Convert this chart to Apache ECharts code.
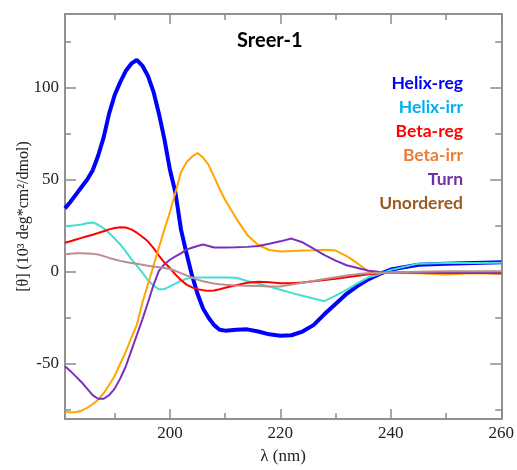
<!DOCTYPE html>
<html>
<head>
<meta charset="utf-8">
<script src="https://cdn.jsdelivr.net/npm/echarts@6/dist/echarts.min.js"></script>
<style>html,body{margin:0;padding:0;background:#fff}#chart{width:517px;height:470px}</style>
</head>
<body>
<div id="chart"></div>
<script>
const titleText = 'Sreer-1';
const xName = 'λ (nm)';
const yName = '[θ] (10³ deg*cm²/dmol)';
const wavelengths = [181,182,183,184,185,186,187,188,189,190,191,192,193,194,195,196,197,198,199,200,201,202,203,204,205,206,207,208,209,210,212,214,216,218,220,222,224,226,228,230,232,234,236,238,240,245,250,255,260];
const helixReg = [34.4,38,42,46,50,55,63,73,86,96,103,109,113,115,112,106.5,98,86,72,55.4,43,23,10,-2,-12,-20,-25,-29,-31.5,-32,-31.5,-31.3,-32.5,-34,-34.8,-34.5,-32.5,-29,-23,-17.5,-12,-7.7,-4,-1.2,1.2,3.8,4.4,4.8,5.1];
const helixIrr = [24.5,25,25.3,25.7,26.3,26.8,25.5,23.6,21,18,14.8,11,7,3.3,-0.5,-4.5,-7.5,-9.5,-9.5,-8,-6.5,-5,-3.8,-3.3,-3.2,-3.2,-3.2,-3.2,-3.2,-3.2,-3.3,-5,-6.5,-8,-9.8,-11.5,-13,-14.5,-16,-13,-9.8,-6.2,-3,-1.2,1,4.4,4.8,4.8,4.9];
const betaReg = [15.7,16.6,17.5,18.4,19.3,20.1,21,22,23,23.8,24.2,24,23,21.2,19,16.5,13,8.8,5,2,-1.5,-4.5,-7,-8.5,-9.5,-10,-10.4,-10.2,-9.5,-8.7,-7.3,-6,-5.5,-5.7,-6.2,-6.2,-5.8,-5.2,-4.5,-3.8,-3,-2.2,-1.4,-0.8,-0.5,-0.5,-0.8,-0.5,-0.7];
const betaIrr = [-76,-76.5,-76.2,-75.5,-74,-72,-69.5,-66,-61.5,-56.6,-50,-43.5,-36,-29,-17,-7,3,13,23,32.4,43,54,59.5,62.5,64.5,62,58,51.5,45,39,29,20,14.5,11.8,11,11.3,11.5,11.7,12,11.5,8.5,4.5,0,-0.5,-0.5,-0.8,-1.5,-0.8,-1.2];
const turn = [-51.3,-54,-57,-60,-63.5,-67,-69,-69,-67,-63.5,-58,-51.5,-43,-34.5,-26,-17,-7.5,0.5,4,6.5,8.3,10,12,13,14,14.8,14,13.2,13.2,13.2,13.3,13.5,14,15.2,16.5,18,16,12.5,9,6,3.5,2,0.5,-0.2,-0.3,-0.5,-0.7,-0.6,-0.8];
const unordered = [9.5,9.8,10,10,9.9,9.7,9.3,8.5,7.5,6.6,5.9,5.3,4.8,4.3,3.8,3.3,2.8,2.4,2,1.5,0.5,-0.8,-2,-3.2,-4.3,-5.2,-5.9,-6.4,-6.8,-7.1,-7.5,-7.6,-7.8,-8,-8,-7,-6,-5,-4,-3,-2,-1.3,-0.8,-0.5,-0.3,0,0.2,0.2,0.3];
const seriesNames = ['Helix-reg','Helix-irr','Beta-reg','Beta-irr','Turn','Unordered'];
const seriesValues = [helixReg, helixIrr, betaReg, betaIrr, turn, unordered];
const lineColors = ['#0000ff','#40e0d0','#ff0000','#ffa500','#7b2fc0','#bc8f8f'];
const legendColors = ['#0000ff','#00b0f0','#ff0000','#ed7d31','#7030a0','#9c5b1e'];
const lineWidths = [4,2,2,2,2,2];
const xMajor = [200,220,240,260];
const xMinor = [190,210,230,250];
const yMajor = [-50,0,50,100];
const yMinor = [-75,-25,25,75,125];

const axisColor = '#8a8a8a';
const serif = 'Liberation Serif';
function mkAxis(type, pos, ticks, len, labels, extra) {
  const range = type === 'x' ? {min:181,max:260} : {min:-80,max:140};
  return Object.assign({
    type:'value', position:pos, ...range,
    axisLine:{show:true,onZero:false,lineStyle:{color:axisColor,width:1.5}},
    axisTick:{show:true,inside:true,length:len,customValues:ticks,lineStyle:{color:axisColor,width:1.5}},
    axisLabel:labels ? {show:true,customValues:labels,fontFamily:serif,fontSize:17,color:'#222',margin:6} : {show:false},
    splitLine:{show:false}
  }, extra||{});
}
const chart = echarts.init(document.getElementById('chart'), null, {renderer:'canvas'});
chart.setOption({
  animation:false,
  backgroundColor:'#fff',
  title:{text:titleText,left:237,top:31,padding:0,textStyle:{fontFamily:'Lato',fontWeight:'bold',fontSize:20,color:'#000'}},
  legend:{
    orient:'vertical',right:49,top:71,padding:0,align:'right',icon:'none',itemWidth:1,itemHeight:24,itemGap:0,selectedMode:false,
    textStyle:{fontFamily:'Lato',fontWeight:'bold',fontSize:17.5,lineHeight:24},
    data:seriesNames.map((n,i)=>({name:n,textStyle:{color:legendColors[i]}}))
  },
  grid:{left:65,right:15,top:14,bottom:41,containLabel:false},
  xAxis:[
    mkAxis('x','bottom',xMajor,10,xMajor,{name:xName,nameLocation:'middle',nameGap:29,nameTextStyle:{fontFamily:serif,fontSize:17,color:'#222',verticalAlign:'top'}}),
    mkAxis('x','bottom',xMinor,6,null),
    mkAxis('x','top',xMajor,10,null),
    mkAxis('x','top',xMinor,6,null)
  ],
  yAxis:[
    mkAxis('y','left',yMajor,11,yMajor,{name:yName,nameLocation:'middle',nameGap:33,nameMoveOverlap:false,nameTextStyle:{fontFamily:serif,fontSize:16,color:'#222'}}),
    mkAxis('y','left',yMinor,6,null),
    mkAxis('y','right',yMajor,11,null),
    mkAxis('y','right',yMinor,6,null)
  ],
  series:seriesNames.map((n,i)=>({
    name:n,type:'line',xAxisIndex:0,yAxisIndex:0,showSymbol:false,symbol:'none',smooth:false,
    lineStyle:{color:lineColors[i],width:lineWidths[i]},itemStyle:{color:lineColors[i]},
    data:wavelengths.map((w,k)=>[w,seriesValues[i][k]])
  }))
});
</script>
</body>
</html>
